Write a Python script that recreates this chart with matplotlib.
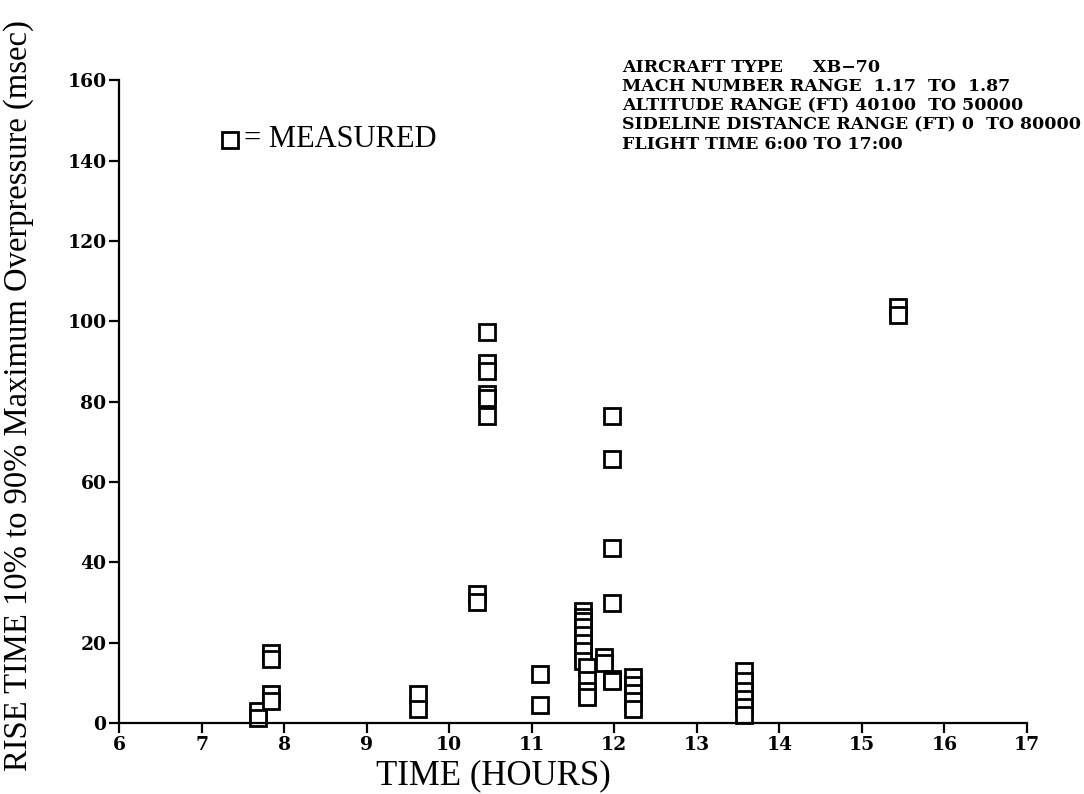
import matplotlib
matplotlib.use("Agg")
import matplotlib.pyplot as plt

# Measured rise times grouped by flight time (hours)
times = [7.68, 7.84, 9.62, 10.34, 10.46, 11.10, 11.62, 11.67, 11.88, 11.97, 12.23, 13.57, 15.44]
rise_times = [
    [3.0, 1.2],
    [17.5, 16.0, 7.2, 5.5],
    [7.2, 3.5],
    [32.0, 30.0],
    [97.3, 89.5, 87.5, 82.0, 81.0, 76.5],
    [12.2, 4.5],
    [27.8, 26.5, 25.3, 24.0, 22.0, 20.0, 18.0, 15.5],
    [14.0, 10.7, 8.0, 6.5],
    [16.4, 15.0],
    [76.4, 65.6, 43.6, 29.8, 11.0, 10.5],
    [11.5, 9.5, 7.5, 5.5, 3.5],
    [12.9, 10.5, 8.0, 6.0, 4.0, 2.0],
    [103.5, 101.5],
]

x_ticks = list(range(6, 18))
y_ticks = list(range(0, 161, 20))

info_lines = [
    "AIRCRAFT TYPE     XB\u221270",
    "MACH NUMBER RANGE  1.17  TO  1.87",
    "ALTITUDE RANGE (FT) 40100  TO 50000",
    "SIDELINE DISTANCE RANGE (FT) 0  TO 80000",
    "FLIGHT TIME 6:00 TO 17:00",
]

serif = "Liberation Serif"
bold_serif = "DejaVu Serif"

fig = plt.figure(figsize=(10.84, 7.94), dpi=100)
ax = fig.add_axes([0.1098, 0.0894, 0.8375, 0.8096])

xs, ys = [], []
for t, vals in zip(times, rise_times):
    for v in vals:
        xs.append(t)
        ys.append(v)

marker_style = dict(linestyle="none", marker="s", markersize=12,
                    markerfacecolor="white", markeredgecolor="black",
                    markeredgewidth=2.0)

ax.plot(xs, ys, clip_on=False, **marker_style)

ax.set_xlim(6, 17)
ax.set_ylim(0, 160)
ax.set_xticks(x_ticks)
ax.set_yticks(y_ticks)

for side in ("top", "right"):
    ax.spines[side].set_visible(False)
for side in ("left", "bottom"):
    ax.spines[side].set_linewidth(1.6)

ax.tick_params(axis="both", direction="out", length=7, width=1.6,
               labelsize=13.5, pad=2)
for lab in ax.get_xticklabels() + ax.get_yticklabels():
    lab.set_fontfamily(bold_serif)
    lab.set_fontweight("bold")

ax.set_xlabel("TIME (HOURS)", fontsize=25, fontfamily=serif)
ax.xaxis.set_label_coords(0.412, -0.057)
ax.set_ylabel("RISE TIME 10% to 90% Maximum Overpressure (msec)",
              fontsize=23.5, fontfamily=serif)
ax.yaxis.set_label_coords(-0.094, 0.51)

# Legend key
ax.plot([7.345], [145.2], **marker_style)
ax.text(7.52, 145.2, "= MEASURED", fontsize=22, fontfamily=serif,
        va="center", ha="left")

# Flight condition block
fig_x = 622 / 1084
for i, line in enumerate(info_lines):
    fig_y = 1 - (67 + i * 19.3) / 794
    fig.text(fig_x, fig_y, line, fontsize=12.5, fontfamily=bold_serif,
             fontweight="bold", va="center", ha="left")

fig.savefig("out.png", dpi=100)
